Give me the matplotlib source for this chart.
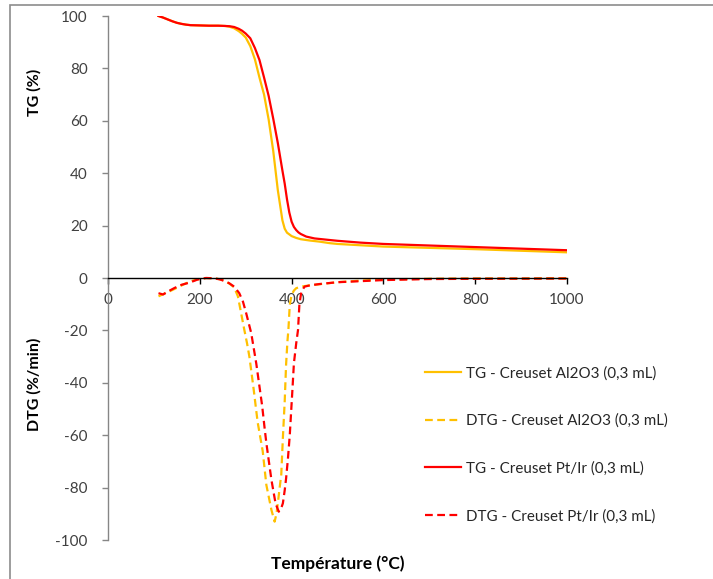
import matplotlib
matplotlib.use("Agg")
import matplotlib.pyplot as plt
from matplotlib.patches import Rectangle

plt.rcParams['font.family'] = ['Lato', 'DejaVu Sans']
plt.rcParams['axes.unicode_minus'] = False

# TG courbes (%)
tg_al_x = [110, 120, 130, 140, 150, 160, 170, 180, 200, 220, 240, 255, 265, 275, 285, 292, 300, 310,
           320, 330, 340, 350, 360, 370, 380, 385, 390, 400, 410, 420, 440, 460, 483, 500, 550, 600,
           700, 800, 900, 1000]
tg_al_y = [100.0, 99.4, 98.7, 98.0, 97.4, 97.0, 96.7, 96.5, 96.4, 96.3, 96.3, 96.2, 95.9, 95.3, 94.2,
           93.2, 91.8, 88.5, 83.5, 76.5, 70.0, 60.5, 48.5, 33.5, 22.0, 18.8, 17.3, 16.0, 15.3, 14.8,
           14.3, 13.9, 13.3, 13.0, 12.5, 12.0, 11.5, 11.0, 10.4, 9.8]

tg_pt_x = [110, 120, 130, 140, 150, 160, 170, 180, 200, 220, 240, 255, 265, 275, 285, 292, 300, 310,
           320, 330, 340, 350, 360, 370, 380, 385, 390, 395, 400, 405, 410, 415, 420, 432, 450, 483,
           500, 550, 600, 700, 800, 900, 1000]
tg_pt_y = [100.0, 99.4, 98.7, 98.0, 97.4, 97.0, 96.7, 96.5, 96.4, 96.3, 96.3, 96.2, 96.1, 95.8, 95.1,
           94.4, 93.3, 91.5, 87.8, 83.2, 76.5, 69.5, 60.8, 51.5, 41.0, 36.0, 30.0, 25.0, 21.5, 19.5,
           18.3, 17.4, 16.8, 15.8, 15.1, 14.5, 14.2, 13.5, 13.0, 12.4, 11.8, 11.2, 10.6]

# DTG courbes (%/min)
dtg_al_x = [110, 125, 140, 155, 170, 185, 200, 215, 230, 245, 255, 265, 275, 283, 290, 297, 303, 308,
            317, 326, 337, 345, 356, 363, 367, 370, 374, 377.5, 381, 385, 388, 391, 393, 396, 400, 405,
            410, 420, 440, 470, 500, 550, 600, 650, 700, 800, 900, 1000]
dtg_al_y = [-7.0, -5.8, -4.6, -3.3, -2.0, -1.0, -0.3, 0.0, -0.1, -0.5, -1.2, -2.2, -3.6, -7.0, -13.4,
            -19.8, -25.0, -30.0, -42.0, -55.0, -66.0, -79.0, -88.5, -93.0, -90.0, -86.0, -80.0, -75.0,
            -61.0, -47.0, -33.0, -24.0, -19.8, -10.3, -6.5, -4.8, -3.9, -3.3, -2.8, -2.2, -1.6, -1.0,
            -0.6, -0.4, -0.3, -0.2, -0.2, -0.1]

dtg_pt_x = [110, 120, 130, 145, 160, 177, 195, 213, 230, 243, 255, 264, 275, 286, 294, 301, 312, 323,
            336, 341, 345, 356, 365, 372, 377, 381, 385, 388, 392, 396, 399, 402, 405, 410, 414, 417,
            421, 428, 440, 461, 500, 527, 599, 700, 800, 900, 1000]
dtg_pt_y = [-5.8, -6.3, -5.2, -3.8, -2.6, -1.8, -0.6, 0.0, -0.1, -0.5, -1.2, -2.0, -3.3, -5.8, -9.0,
            -13.4, -21.0, -32.6, -49.0, -57.0, -63.0, -77.0, -86.0, -89.2, -88.0, -86.0, -81.0, -76.5,
            -69.0, -60.0, -51.0, -42.0, -32.6, -25.0, -19.8, -10.0, -5.5, -3.3, -2.8, -2.3, -1.6, -1.4,
            -0.8, -0.4, -0.3, -0.25, -0.2]

labels = ['TG - Creuset Al2O3 (0,3 mL)', 'DTG - Creuset Al2O3 (0,3 mL)',
          'TG - Creuset Pt/Ir (0,3 mL)', 'DTG - Creuset Pt/Ir (0,3 mL)']
x_ticks = [0, 200, 400, 600, 800, 1000]
y_ticks = [-100, -80, -60, -40, -20, 0, 20, 40, 60, 80, 100]

ORANGE = '#FFC000'
RED = '#FF0000'
W, H = 713, 579

fig = plt.figure(figsize=(W / 100, H / 100), dpi=100)
ax = fig.add_axes([108 / W, 1 - 540 / H, (567 - 108) / W, (540 - 16) / H])

dash = (0, (3.5, 2.0))
ax.plot(tg_al_x, tg_al_y, color=ORANGE, lw=1.6, label=labels[0])
ax.plot(dtg_al_x, dtg_al_y, color=ORANGE, lw=1.6, ls=dash, label=labels[1])
ax.plot(tg_pt_x, tg_pt_y, color=RED, lw=1.6, label=labels[2])
ax.plot(dtg_pt_x, dtg_pt_y, color=RED, lw=1.6, ls=dash, label=labels[3])

ax.set_xlim(0, 1000)
ax.set_ylim(-100, 100)
ax.set_xticks(x_ticks)
ax.set_yticks(y_ticks)

ax.spines['top'].set_visible(False)
ax.spines['right'].set_visible(False)
ax.spines['bottom'].set_position(('data', 0))
ax.spines['bottom'].set_color('black')
ax.spines['bottom'].set_linewidth(1.0)
ax.spines['left'].set_color('#868686')
ax.spines['left'].set_linewidth(1.0)

ax.tick_params(axis='x', direction='out', length=4, width=1, color='black',
               labelsize=11, labelcolor='#404040', pad=7)
ax.tick_params(axis='y', direction='out', length=4.5, width=1, color='#868686',
               labelsize=11, labelcolor='#404040', pad=10)

ax.set_xlabel('Température (°C)', fontsize=12.5, fontweight='bold', color='black')
ax.xaxis.set_label_coords(0.5, -0.03)

fig.text(34 / W, 1 - 92 / H, 'TG (%)', rotation=90, ha='center', va='center',
         fontsize=11.5, fontweight='bold')
fig.text(34 / W, 1 - 384 / H, 'DTG (%/min)', rotation=90, ha='center', va='center',
         fontsize=11.5, fontweight='bold')

ax.legend(loc='upper left', bbox_to_anchor=(425 / W, 1 - 366 / H), bbox_transform=fig.transFigure,
          frameon=False, fontsize=10.9, handlelength=2.35, handletextpad=0.35, labelspacing=2.2,
          borderpad=0, borderaxespad=0, labelcolor='#262626')

# cadre gris autour du graphique
fig.patches.append(Rectangle((10 / W, -0.5), 1.5, 1.5 - 5 / H, transform=fig.transFigure,
                             fill=False, edgecolor='#8c8c8c', lw=1.2))

fig.savefig('out.png', dpi=100)
